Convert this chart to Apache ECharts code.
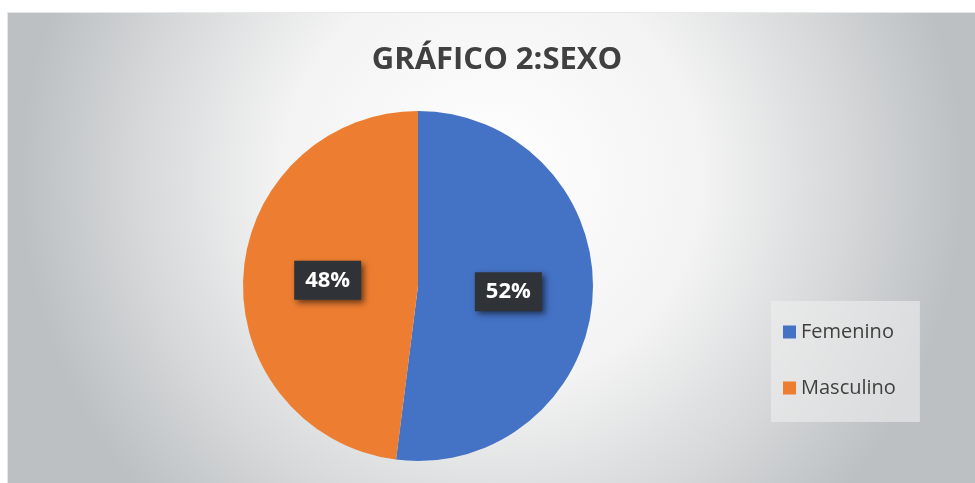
<!DOCTYPE html>
<html lang="es">
<head>
  <meta charset="UTF-8">
  <title>GRÁFICO 2:SEXO</title>
  <script src="https://cdn.jsdelivr.net/npm/echarts@6/dist/echarts.min.js"></script>
  <style>
    html, body { margin: 0; padding: 0; background: #fff; }
    #main {
      position: absolute; left: 7px; top: 12px;
      width: 968px; height: 471px;
      border-top: 1px solid #e8e8e8; border-left: 1px solid #e8e8e8;
    }
  </style>
</head>
<body>
  <div id="main"></div>
  <script>
    // datos
    var categories = ['Femenino', 'Masculino'];
    var values = [52, 48];
    var colors = ['#4472C4', '#ED7D31'];

    var myChart = echarts.init(document.getElementById('main'));

    var option = {
      backgroundColor: {
        type: 'radial', x: 0.5, y: 0.35, r: 1.0,
        colorStops: [
          { offset: 0, color: '#ffffff' },
          { offset: 0.45, color: '#f3f3f3' },
          { offset: 0.75, color: '#d6d8d9' },
          { offset: 1, color: '#bcc0c2' }
        ]
      },
      title: {
        text: 'GRÁFICO 2:SEXO',
        left: 484, top: 27, textAlign: 'center',
        textStyle: { fontFamily: 'Open Sans', fontWeight: 'bold', fontSize: 31, color: '#404040' }
      },
      legend: {
        orient: 'vertical',
        left: 763, top: 288,
        padding: [21, 24, 24, 12],
        backgroundColor: 'rgba(238,238,238,0.6)',
        itemGap: 36,
        itemWidth: 13, itemHeight: 13,
        icon: 'rect',
        textStyle: { fontFamily: 'Open Sans', fontSize: 20, color: '#404040' },
        data: categories
      },
      series: [{
        type: 'pie',
        center: [410, 273],
        radius: 175,
        startAngle: 90,
        clockwise: true,
        silent: true,
        data: categories.map(function (c, i) {
          return { name: c, value: values[i], itemStyle: { color: colors[i] } };
        }),
        label: {
          show: true,
          position: 'inside',
          formatter: '{d}%',
          color: '#ffffff',
          fontFamily: 'Open Sans',
          fontWeight: 'bold',
          fontSize: 22,
          backgroundColor: '#2f3338',
          padding: [9, 11, 8, 11],
          shadowColor: 'rgba(0,0,0,0.55)',
          shadowBlur: 6,
          shadowOffsetX: 3,
          shadowOffsetY: 3
        },
        labelLine: { show: false }
      }]
    };

    myChart.setOption(option);
  </script>
</body>
</html>
